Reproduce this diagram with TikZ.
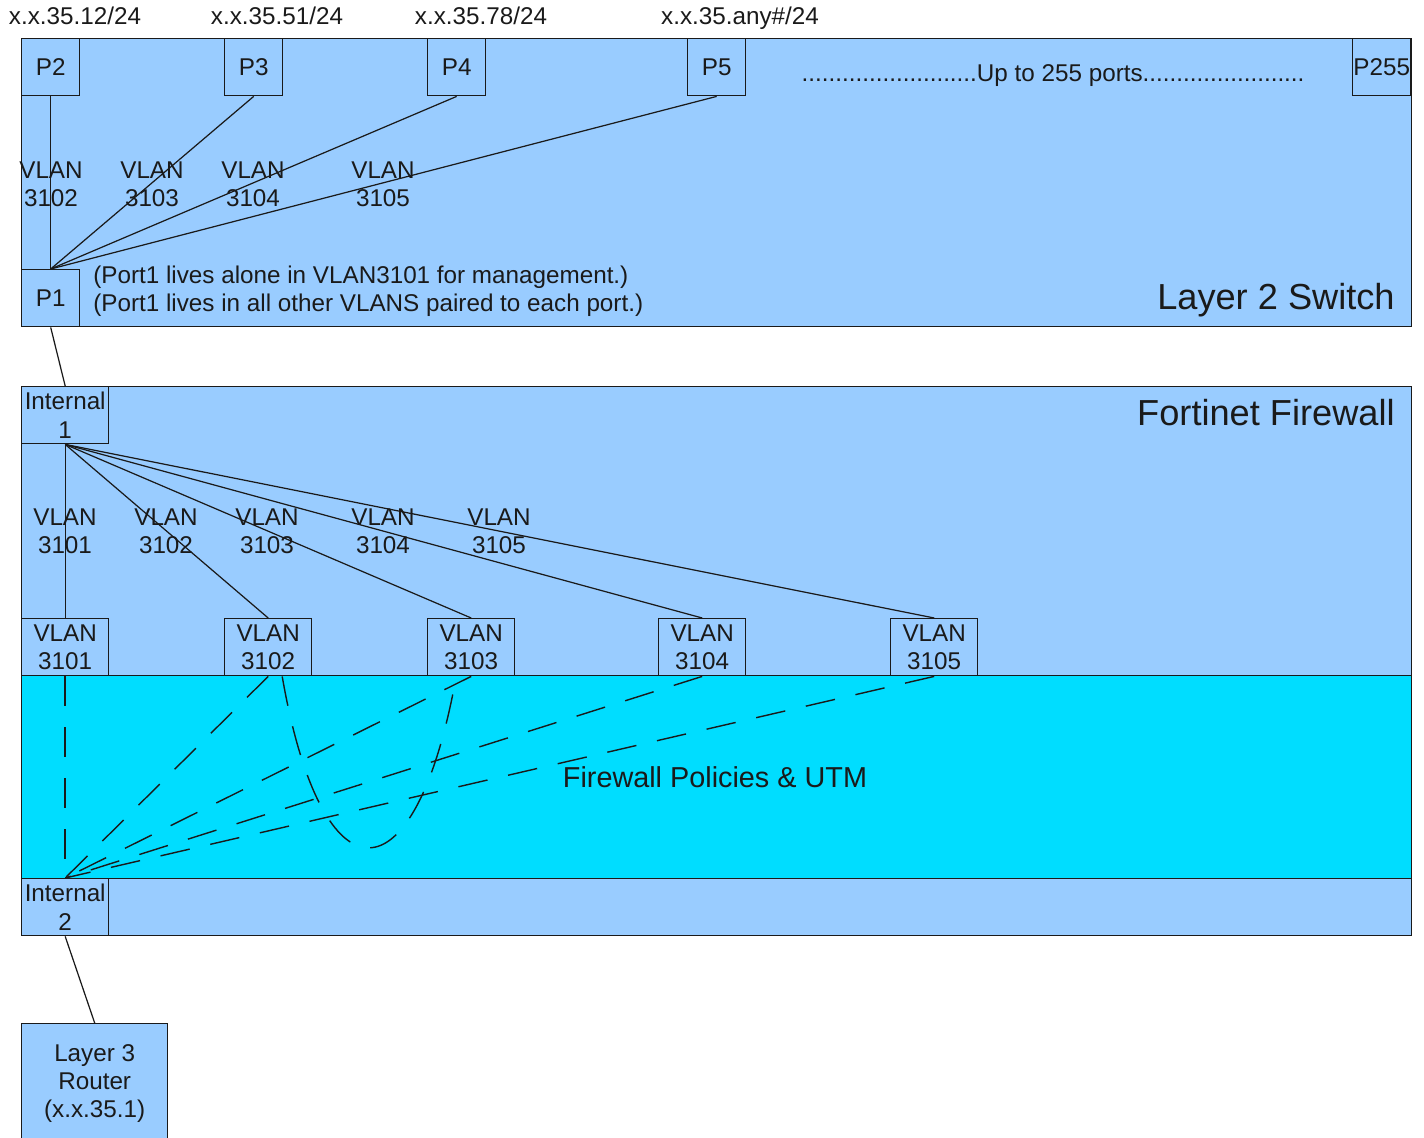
\documentclass[tikz,border=0pt]{standalone}
\usepackage{fontspec}
\setmainfont{Liberation Sans}
\usepackage{tikz}
\usetikzlibrary{positioning}
\definecolor{swblue}{HTML}{99CCFF}
\definecolor{utmcyan}{HTML}{00DDFF}
\definecolor{ink}{HTML}{1A1A1A}

\begin{document}
\begin{tikzpicture}[
    x=0.02cm, y=-0.02cm,
    txt/.style={font=\fontsize{13.8}{16}\selectfont, text=ink, align=center, inner sep=0pt},
    big/.style={font=\fontsize{20.6}{24}\selectfont, text=ink, inner sep=0pt},
    panel/.style={draw=ink, line width=0.8pt, fill=swblue, minimum width=27.8cm,
                  anchor=north west, inner sep=0pt},
    port/.style={txt, draw=ink, line width=0.8pt, fill=swblue, minimum width=1.16cm,
                 minimum height=1.14cm, anchor=north west},
    vbox/.style={port, minimum width=1.74cm},
    link/.style={draw=ink, line width=0.7pt},
    dlink/.style={link, line width=0.8pt, dash pattern=on 17pt off 12pt}
  ]
  \useasboundingbox (0,0) rectangle (1424,1138);

  \node[panel, minimum height=5.76cm] (switch) at (21,38) {};
  \node[panel, minimum height=10.98cm] (fw) at (21,386) {};
  \node[panel, fill=utmcyan, minimum height=4.06cm] (utm) at (21,675) {};

  \node[txt, anchor=base] (ip2) at (75,25) {x.x.35.12/24};
  \node[txt, anchor=base] (ip3) at (277,25) {x.x.35.51/24};
  \node[txt, anchor=base] (ip4) at (481,25) {x.x.35.78/24};
  \node[txt, anchor=base] (ip5) at (740,25) {x.x.35.any\#/24};

  \node[port] (p2) at (21,38) {P2};
  \node[port] (p3) at (224,38) {P3};
  \node[port] (p4) at (427,38) {P4};
  \node[port] (p5) at (687,38) {P5};
  \node[port] (p255) at (1352,38) {P255};
  \node[port] (p1) at (21,269) {P1};

  \node[txt] (more) at (1053,76)
    {..........................Up to 255 ports........................};

  \node[txt] (sw3102) at (51,184) {VLAN\\3102};
  \node[txt] (sw3103) at (152,184) {VLAN\\3103};
  \node[txt] (sw3104) at (253,184) {VLAN\\3104};
  \node[txt] (sw3105) at (383,184) {VLAN\\3105};

  \node[txt, anchor=west, align=left] (notes) at (93,291)
    {(Port1 lives alone in VLAN3101 for management.)\\
     (Port1 lives in all other VLANS paired to each port.)};
  \node[big, anchor=east] (swname) at (1395,300) {Layer 2 Switch};

  \draw[link] (p2.south) -- (p1.north);
  \draw[link] (p3.south) -- (p1.north);
  \draw[link] (p4.south) -- (p1.north);
  \draw[link] (p5.south) -- (p1.north);

  \node[vbox] (int1) at (21,386) {Internal\\1};
  \node[big, anchor=east] (fwname) at (1395,413) {Fortinet Firewall};

  \node[txt] (fw3101) at (65,531) {VLAN\\3101};
  \node[txt] (fw3102) at (166,531) {VLAN\\3102};
  \node[txt] (fw3103) at (267,531) {VLAN\\3103};
  \node[txt] (fw3104) at (383,531) {VLAN\\3104};
  \node[txt] (fw3105) at (499,531) {VLAN\\3105};

  \node[vbox] (v3101) at (21,618) {VLAN\\3101};
  \node[vbox] (v3102) at (224,618) {VLAN\\3102};
  \node[vbox] (v3103) at (427,618) {VLAN\\3103};
  \node[vbox] (v3104) at (658,618) {VLAN\\3104};
  \node[vbox] (v3105) at (890,618) {VLAN\\3105};

  \draw[link] (int1.south) -- (v3101.north);
  \draw[link] (int1.south) -- (v3102.north);
  \draw[link] (int1.south) -- (v3103.north);
  \draw[link] (int1.south) -- (v3104.north);
  \draw[link] (int1.south) -- (v3105.north);

  \node[txt, font=\fontsize{16.4}{19}\selectfont] (utmname) at (715,777)
    {Firewall Policies \& UTM};
  \node[vbox] (int2) at (21,878) {Internal\\2};

  \draw[dlink] (v3101.south) -- (int2.north);
  \draw[dlink] (v3102.south) -- (int2.north);
  \draw[dlink] (v3103.south) -- (int2.north);
  \draw[dlink] (v3104.south) -- (int2.north);
  \draw[dlink] (v3105.south) -- (int2.north);
  \draw[dlink] ([xshift=0.28cm]v3102.south) .. controls (322,905) and (415,905)
    .. ([xshift=-0.3cm]v3103.south);

  \node[port, minimum width=2.92cm, minimum height=2.4cm] (router) at (21,1023)
    {Layer 3\\Router\\(x.x.35.1)};

  \draw[link] (p1.south) -- (int1.north);
  \draw[link] (int2.south) -- (router.north);
\end{tikzpicture}
\end{document}
